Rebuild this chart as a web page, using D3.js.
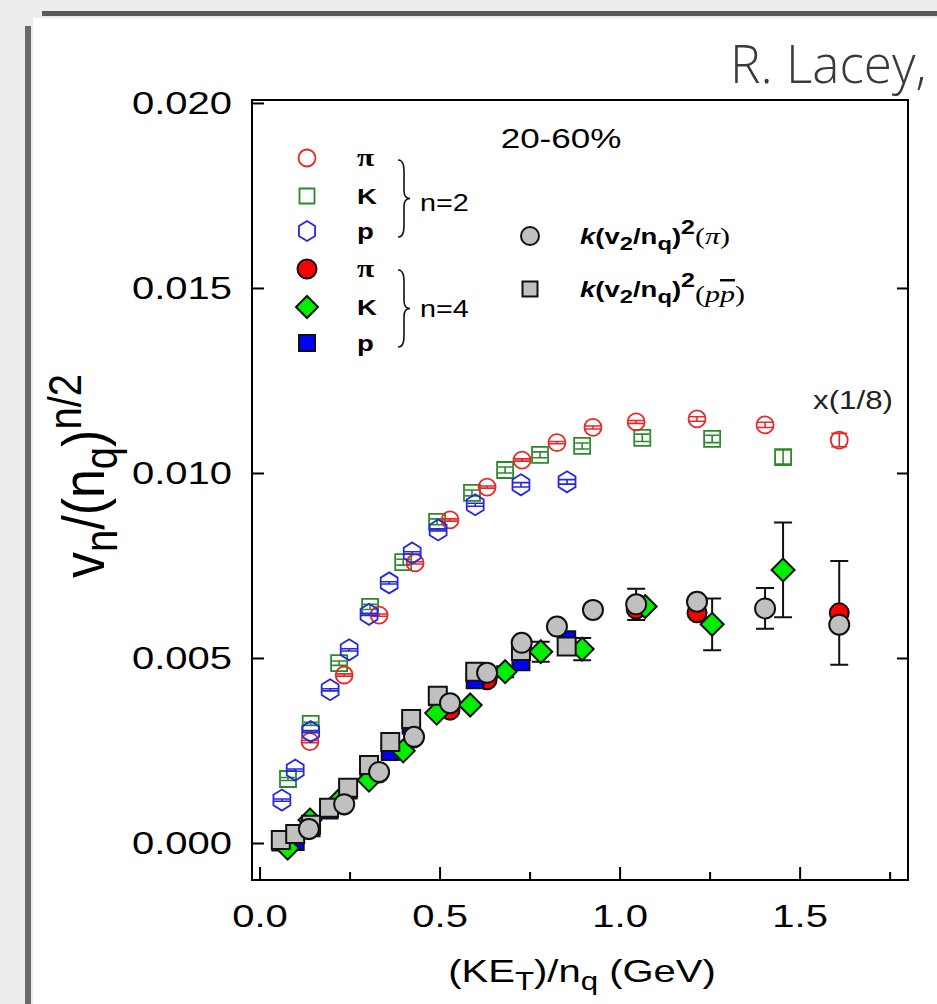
<!DOCTYPE html>
<html>
<head>
<meta charset="utf-8">
<script src="https://cdn.jsdelivr.net/npm/d3@7"></script>
<style>
  body { margin: 0; background: #ececee; }
  svg { display: block; }
</style>
</head>
<body>
<script>
// Axis ticks
var yTicks = [0.000, 0.005, 0.010, 0.015, 0.020];
var xTicks = [0.0, 0.5, 1.0, 1.5];
var xMinorTicks = [0.25, 0.75, 1.25, 1.75];

// n=2, open markers (plotted x 1/8)
var pi2X = [0.140, 0.235, 0.332, 0.432, 0.529, 0.632, 0.729, 0.826, 0.926, 1.046, 1.215, 1.404, 1.610];
var pi2Y = [0.00274, 0.00454, 0.00616, 0.00757, 0.00873, 0.00962, 0.01035, 0.01082, 0.01123, 0.01138, 0.01146, 0.01130, 0.01089];
var pi2Err = [0.00003, 0.00003, 0.00003, 0.00003, 0.00003, 0.00003, 0.00003, 0.00003, 0.00004, 0.00004, 0.00006, 0.00007, 0.00018];

var k2X = [0.079, 0.142, 0.221, 0.307, 0.399, 0.493, 0.590, 0.682, 0.779, 0.896, 1.063, 1.257, 1.454];
var k2Y = [0.00173, 0.00322, 0.00486, 0.00638, 0.00759, 0.00868, 0.00946, 0.01008, 0.01049, 0.01073, 0.01095, 0.01092, 0.01043];
var k2Err = [0.00004, 0.00004, 0.00006, 0.00007, 0.00008, 0.00008, 0.00008, 0.00008, 0.00008, 0.00008, 0.00010, 0.00010, 0.00019];

var p2X = [0.062, 0.099, 0.142, 0.196, 0.249, 0.304, 0.360, 0.424, 0.496, 0.599, 0.726, 0.854];
var p2Y = [0.00116, 0.00197, 0.00301, 0.00414, 0.00522, 0.00618, 0.00703, 0.00784, 0.00846, 0.00914, 0.00968, 0.00976];
var p2Err = [0.00003, 0.00003, 0.00003, 0.00003, 0.00003, 0.00003, 0.00003, 0.00003, 0.00003, 0.00004, 0.00006, 0.00006];

// n=4, filled markers
var pi4X = [0.137, 0.235, 0.332, 0.429, 0.529, 0.632, 0.728, 1.046, 1.215, 1.610];
var pi4Y = [0.00036, 0.00103, 0.00189, 0.00284, 0.00359, 0.00441, 0.00527, 0.00632, 0.00622, 0.00622];
var pi4Err = [0, 0, 0, 0, 0, 0, 0, 0, 0, 0.00140];

var k4X = [0.078, 0.140, 0.221, 0.304, 0.399, 0.492, 0.585, 0.682, 0.781, 0.896, 1.071, 1.257, 1.454];
var k4Y = [-0.00014, 0.00062, 0.00115, 0.00170, 0.00249, 0.00351, 0.00373, 0.00463, 0.00517, 0.00524, 0.00639, 0.00591, 0.00738];
var k4Err = [0, 0, 0, 0, 0, 0, 0, 0.00015, 0.00027, 0.00030, 0, 0.00070, 0.00128];

var p4X = [0.059, 0.099, 0.143, 0.193, 0.246, 0.304, 0.363, 0.421, 0.495, 0.599, 0.726, 0.853];
var p4Y = [0.00003, 0.00004, 0.00041, 0.00089, 0.00143, 0.00197, 0.00247, 0.00319, 0.00395, 0.00441, 0.00490, 0.00549];
var p4Err = [0, 0, 0, 0, 0, 0, 0, 0, 0, 0, 0, 0.00020];

// k(v2/nq)^2 scaled n=2 values
var kPiX = [0.137, 0.235, 0.332, 0.429, 0.529, 0.632, 0.728, 0.826, 0.926, 1.046, 1.215, 1.404, 1.610];
var kPiY = [0.00038, 0.00105, 0.00192, 0.00287, 0.00378, 0.00460, 0.00541, 0.00585, 0.00630, 0.00645, 0.00652, 0.00634, 0.00590];
var kPiErr = [0, 0, 0, 0, 0, 0, 0, 0, 0, 0.00042, 0, 0.00055, 0];

var kPpX = [0.059, 0.099, 0.143, 0.193, 0.246, 0.304, 0.363, 0.421, 0.495, 0.599, 0.726, 0.853];
var kPpY = [0.00008, 0.00024, 0.00049, 0.00095, 0.00149, 0.00211, 0.00273, 0.00335, 0.00398, 0.00463, 0.00519, 0.00531];

window.onload = function() {
  drawChart();
};

function hexPath(r) {
  var pts = [];
  for (var i = 0; i < 6; i++) {
    var a = (-90 + 60 * i) * Math.PI / 180;
    pts.push([r * Math.cos(a) * 0.93, r * Math.sin(a)]);
  }
  return "M" + pts.join("L") + "Z";
}

function diamondPath(h) {
  return "M0," + (-h) + "L" + h + ",0L0," + h + "L" + (-h) + ",0Z";
}

function markerPath(type, size) {
  if (type == "circle") return d3.symbol().type(d3.symbolCircle).size(Math.PI * size * size)();
  if (type == "square") return d3.symbol().type(d3.symbolSquare).size(size * size)();
  if (type == "hex") return hexPath(size);
  return diamondPath(size);
}

function drawChart() {
  var width = 937;
  var height = 1004;
  var left = 252, right = 908, top = 100, bottom = 880;
  var stretch = 1.25;

  var svg = d3.select("body")
              .append("svg")
              .attr("width", width)
              .attr("height", height);

  // Slide background
  svg.append("rect").attr("width", width).attr("height", height).attr("fill", "#ececee");
  svg.append("rect").attr("x", 33).attr("y", 18).attr("width", width - 33).attr("height", height - 18)
     .attr("fill", "#ffffff");
  svg.append("rect").attr("x", 42).attr("y", 11).attr("width", width - 42).attr("height", 5)
     .attr("fill", "#5a5a5a");
  svg.append("rect").attr("x", 25).attr("y", 26).attr("width", 6).attr("height", height - 26)
     .attr("fill", "#6a6a6a");

  // Slide header (narrow light face)
  svg.append("text")
     .text("R. Lacey,")
     .attr("transform", "translate(730,83) scale(0.95,1)")
     .attr("font-family", "Open Sans").attr("font-weight", 300)
     .attr("font-size", 54).attr("fill", "#3a3a3a");

  // Scales
  var scaleX = d3.scaleLinear().domain([-0.021, 1.801]).range([left, right]);
  var scaleY = d3.scaleLinear().domain([-0.001, 0.02008]).range([bottom, top]);

  // Axes
  var yAxis = d3.axisLeft(scaleY).tickValues(yTicks).tickFormat(d3.format(".3f"))
                .tickSizeInner(-12).tickSizeOuter(0).tickPadding(16);
  var gy = svg.append("g").attr("transform", "translate(" + left + ",0)").call(yAxis);
  gy.selectAll("text").attr("font-size", 32).attr("font-family", "Liberation Sans")
    .attr("fill", "#000").attr("transform", "scale(" + stretch + ",1)");

  var yAxisR = d3.axisRight(scaleY).tickValues(yTicks.slice(1, 4)).tickFormat("")
                 .tickSizeInner(-11).tickSizeOuter(0);
  svg.append("g").attr("transform", "translate(" + right + ",0)").call(yAxisR);

  var xAxis = d3.axisBottom(scaleX).tickValues(xTicks).tickFormat(d3.format(".1f"))
                .tickSizeInner(-13).tickSizeOuter(0).tickPadding(24);
  var gx = svg.append("g").attr("transform", "translate(0," + bottom + ")").call(xAxis);
  gx.selectAll("text").attr("font-size", 32).attr("font-family", "Liberation Sans")
    .attr("fill", "#000").attr("transform", "scale(" + stretch + ",1)");

  var xMinor = d3.axisBottom(scaleX).tickValues(xMinorTicks).tickFormat("")
                 .tickSizeInner(-8).tickSizeOuter(0);
  svg.append("g").attr("transform", "translate(0," + bottom + ")").call(xMinor);

  svg.selectAll(".domain").remove();
  svg.selectAll(".tick line").attr("stroke", "#000").attr("stroke-width", 2);

  svg.append("rect")
     .attr("x", left).attr("y", top)
     .attr("width", right - left).attr("height", bottom - top)
     .attr("fill", "none").attr("stroke", "#000").attr("stroke-width", 2);

  // Axis titles
  var xt = svg.append("text")
     .attr("transform", "translate(582,982) scale(" + stretch + ",1)")
     .attr("text-anchor", "middle")
     .attr("font-family", "Liberation Sans").attr("font-size", 32);
  xt.append("tspan").text("(KE");
  xt.append("tspan").text("T").attr("font-size", 25).attr("dy", 8);
  xt.append("tspan").text(")/n").attr("dy", -8);
  xt.append("tspan").text("q").attr("font-size", 25).attr("dy", 8);
  xt.append("tspan").text(" (GeV)").attr("dy", -8);

  var yt = svg.append("text")
     .attr("transform", "translate(104,476) scale(1.15,1) rotate(-90)")
     .attr("text-anchor", "middle")
     .attr("font-family", "Liberation Sans").attr("font-size", 52);
  yt.append("tspan").text("v");
  yt.append("tspan").text("n").attr("font-size", 40).attr("dy", 11);
  yt.append("tspan").text("/(n").attr("dy", -11);
  yt.append("tspan").text("q").attr("font-size", 40).attr("dy", 11);
  yt.append("tspan").text(")").attr("dy", -11);
  yt.append("tspan").text("n/2").attr("font-size", 40).attr("dy", -20);

  // Annotations
  svg.append("text").text("20-60%")
     .attr("transform", "translate(561,148) scale(" + stretch + ",1)")
     .attr("text-anchor", "middle")
     .attr("font-family", "Liberation Sans").attr("font-size", 28);
  svg.append("text").text("x(1/8)")
     .attr("transform", "translate(853,409) scale(" + stretch + ",1)")
     .attr("text-anchor", "middle").attr("fill", "#222")
     .attr("font-family", "Liberation Sans").attr("font-size", 25);

  // Series
  var open = [
    {x: k2X, y: k2Y, e: k2Err, type: "square", size: 16, color: "#2a8a2a", cap: 7},
    {x: pi2X, y: pi2Y, e: pi2Err, type: "circle", size: 8.5, color: "#e82828", cap: 8},
    {x: p2X, y: p2Y, e: p2Err, type: "hex", size: 10.5, color: "#2626e6", cap: 8}
  ];
  open.forEach(function(s) {
    var g = svg.append("g");
    var pts = d3.zip(s.x, s.y, s.e);
    g.selectAll("path.m").data(pts).enter().append("path")
     .attr("d", markerPath(s.type, s.size))
     .attr("transform", function(d) { return "translate(" + scaleX(d[0]) + "," + scaleY(d[1]) + ")"; })
     .attr("fill", "none").attr("stroke", s.color).attr("stroke-width", 1.8);
    g.selectAll("path.e").data(pts).enter().append("path")
     .attr("d", function(d) {
       var cx = scaleX(d[0]), y1 = scaleY(d[1] + d[2]), y2 = scaleY(d[1] - d[2]);
       return "M" + cx + "," + y1 + "V" + y2 +
              "M" + (cx - s.cap) + "," + y1 + "H" + (cx + s.cap) +
              "M" + (cx - s.cap) + "," + y2 + "H" + (cx + s.cap);
     })
     .attr("fill", "none").attr("stroke", s.color).attr("stroke-width", 1.6);
  });

  var filled = [
    {x: pi4X, y: pi4Y, e: pi4Err, type: "circle", size: 9.5, color: "#ff0000"},
    {x: p4X, y: p4Y, e: p4Err, type: "square", size: 17, color: "#0000ff"},
    {x: k4X, y: k4Y, e: k4Err, type: "diamond", size: 11.5, color: "#00ee00"},
    {x: kPpX, y: kPpY, e: kPpX.map(function() { return 0; }), type: "square", size: 18, color: "#c0c0c0"},
    {x: kPiX, y: kPiY, e: kPiErr, type: "circle", size: 10, color: "#c0c0c0"}
  ];
  var bars = svg.append("g");
  filled.forEach(function(s) {
    var pts = d3.zip(s.x, s.y, s.e).filter(function(d) { return d[2] > 0; });
    bars.selectAll(null).data(pts).enter().append("path")
        .attr("d", function(d) {
          var cx = scaleX(d[0]), y1 = scaleY(d[1] + d[2]), y2 = scaleY(d[1] - d[2]);
          return "M" + cx + "," + y1 + "V" + y2 +
                 "M" + (cx - 9) + "," + y1 + "H" + (cx + 9) +
                 "M" + (cx - 9) + "," + y2 + "H" + (cx + 9);
        })
        .attr("fill", "none").attr("stroke", "#111").attr("stroke-width", 2);
  });
  filled.forEach(function(s) {
    svg.append("g").selectAll("path").data(d3.zip(s.x, s.y)).enter().append("path")
       .attr("d", markerPath(s.type, s.size))
       .attr("transform", function(d) { return "translate(" + scaleX(d[0]) + "," + scaleY(d[1]) + ")"; })
       .attr("fill", s.color).attr("stroke", "#111").attr("stroke-width", 2);
  });

  // Legend
  var legendRows = [
    {y: 158, label: "π", type: "circle", size: 8.5, fill: "none", stroke: "#e82828"},
    {y: 196, label: "K", type: "square", size: 15, fill: "none", stroke: "#2a8a2a"},
    {y: 231, label: "p", type: "hex", size: 10, fill: "none", stroke: "#2626e6"},
    {y: 269, label: "π", type: "circle", size: 9.5, fill: "#ff0000", stroke: "#111"},
    {y: 307, label: "K", type: "diamond", size: 11, fill: "#00ee00", stroke: "#111"},
    {y: 343, label: "p", type: "square", size: 16, fill: "#0000ff", stroke: "#111"}
  ];
  var lg = svg.append("g");
  legendRows.forEach(function(r) {
    lg.append("path").attr("d", markerPath(r.type, r.size))
      .attr("transform", "translate(307," + r.y + ")")
      .attr("fill", r.fill).attr("stroke", r.stroke)
      .attr("stroke-width", r.fill == "none" ? 1.8 : 2);
    lg.append("text").text(r.label)
      .attr("transform", "translate(357," + (r.y + 8) + ") scale(" + stretch + ",1)")
      .attr("font-family", r.label == "π" ? "Liberation Serif" : "Liberation Sans")
      .attr("font-weight", "bold").attr("font-size", r.label == "π" ? 25 : 22);
  });

  function brace(x, y1, y2) {
    var m = (y1 + y2) / 2;
    return "M" + x + "," + y1 +
           "C" + (x + 7) + "," + y1 + " " + (x + 6) + "," + (y1 + 10) + " " + (x + 6) + "," + (y1 + 20) +
           "L" + (x + 6) + "," + (m - 8) +
           "C" + (x + 6) + "," + (m - 2) + " " + (x + 8) + "," + m + " " + (x + 12) + "," + m +
           "C" + (x + 8) + "," + m + " " + (x + 6) + "," + (m + 2) + " " + (x + 6) + "," + (m + 8) +
           "L" + (x + 6) + "," + (y2 - 20) +
           "C" + (x + 6) + "," + (y2 - 10) + " " + (x + 7) + "," + y2 + " " + x + "," + y2;
  }
  lg.append("path").attr("d", brace(398, 160, 237)).attr("fill", "none").attr("stroke", "#111").attr("stroke-width", 1.6);
  lg.append("path").attr("d", brace(398, 270, 347)).attr("fill", "none").attr("stroke", "#111").attr("stroke-width", 1.6);
  lg.append("text").text("n=2")
    .attr("transform", "translate(420,211) scale(" + stretch + ",1)")
    .attr("font-family", "Liberation Sans").attr("font-size", 23);
  lg.append("text").text("n=4")
    .attr("transform", "translate(420,317) scale(" + stretch + ",1)")
    .attr("font-family", "Liberation Sans").attr("font-size", 23);

  // k(v2/nq)^2 legend
  lg.append("path").attr("d", markerPath("circle", 9))
    .attr("transform", "translate(530,236)")
    .attr("fill", "#c0c0c0").attr("stroke", "#111").attr("stroke-width", 2);
  lg.append("path").attr("d", markerPath("square", 15))
    .attr("transform", "translate(530,289)")
    .attr("fill", "#c0c0c0").attr("stroke", "#111").attr("stroke-width", 2);

  function kLabel(y, tail, tailDy) {
    var t = lg.append("text")
      .attr("transform", "translate(580," + y + ") scale(" + stretch + ",1)")
      .attr("font-family", "Liberation Sans").attr("font-weight", "bold").attr("font-size", 22);
    t.append("tspan").text("k").attr("font-style", "italic");
    t.append("tspan").text("(v");
    t.append("tspan").text("2").attr("font-size", 19).attr("dy", 6);
    t.append("tspan").text("/n").attr("dy", -6);
    t.append("tspan").text("q").attr("font-size", 19).attr("dy", 6);
    t.append("tspan").text(")").attr("dy", -6);
    t.append("tspan").text("2").attr("font-size", 20).attr("dy", -10);
    var tt = t.append("tspan").attr("dy", 10 + tailDy)
      .attr("font-family", "Liberation Serif").attr("font-weight", "normal").attr("font-size", 24);
    tail(tt);
  }
  kLabel(244, function(tt) {
    tt.append("tspan").text("(");
    tt.append("tspan").text("π").attr("font-style", "italic");
    tt.append("tspan").text(")");
  }, 0);
  kLabel(297, function(tt) {
    tt.append("tspan").text("(");
    tt.append("tspan").text("p").attr("font-style", "italic");
    tt.append("tspan").text("p").attr("font-style", "italic").style("text-decoration", "overline");
    tt.append("tspan").text(")");
  }, 5);
}
</script>
</body>
</html>
